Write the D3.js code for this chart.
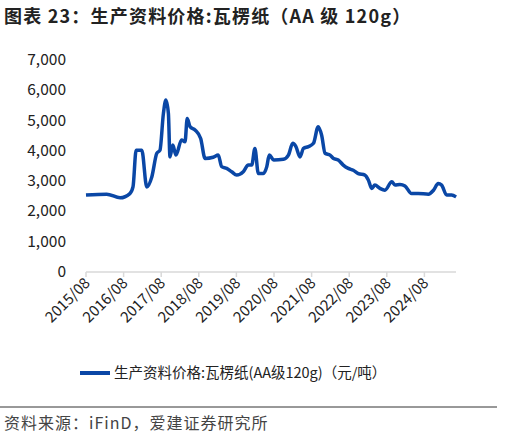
<!DOCTYPE html><html><head><meta charset="utf-8"><script src="https://cdn.jsdelivr.net/npm/d3@7"></script>
<style>body{margin:0;background:#fff;font-family:"Microsoft YaHei","Noto Sans CJK SC",sans-serif}</style></head><body><svg width="505" height="439"></svg><script>
const monthOffset=[0,6.6,10.9,14,15,16,17.8,19.4,21,22.6,23.6,24.7,25.5,26.3,26.8,27.7,28.7,30.5,31.6,32.3,33.2,34.8,36.6,38,40.6,42.2,43.3,44.9,46.5,48.1,50.2,51.8,52.9,53.9,55,56.6,57.7,58.5,59.9,63,64.6,66,67,68.3,69.4,71,72.6,74.1,75.2,76.3,77.9,79,80.5,82.1,83.7,85.3,86.9,89,90.1,91.2,92.2,93.8,95.4,97.6,98.6,100.2,101.8,103.9,106,109.3,110.9,112.4,113.5,115.1,116.7,118.1];
const price=[2540,2570,2450,2590,2810,4020,4020,2810,3140,3920,4020,5230,5680,5230,3800,4190,3860,4360,4300,5070,4800,4690,4410,3750,3790,3860,3480,3420,3310,3200,3310,3530,3530,4080,3250,3250,3480,3860,3700,3720,3860,4250,4140,3800,4080,4140,4250,4800,4520,3920,3860,3750,3700,3530,3420,3360,3250,3200,3040,2760,2870,2760,2700,2980,2870,2890,2840,2590,2590,2570,2700,2920,2870,2540,2540,2480];
const xTicks=["2015/08","2016/08","2017/08","2018/08","2019/08","2020/08","2021/08","2022/08","2023/08","2024/08"];
const yTicks=[0,1000,2000,3000,4000,5000,6000,7000];
const svg=d3.select("svg");
svg.append("text").attr("x",4).attr("y",23).attr("font-size",18).attr("letter-spacing",1.2).attr("font-weight","bold").attr("fill","#222").text("图表 23：生产资料价格:瓦楞纸（AA 级 120g）");
const x=d3.scaleLinear().domain([0,120]).range([86,462]);
const y=d3.scaleLinear().domain([0,7000]).range([272,60]);
svg.append("g").selectAll("text").data(yTicks).join("text").attr("x",66).attr("y",d=>y(d)+5).attr("text-anchor","end").attr("font-size",15.5).attr("fill","#222").text(d=>d3.format(",")(d));
svg.append("line").attr("x1",86).attr("x2",456).attr("y1",272).attr("y2",272).attr("stroke","#d9d9d9").attr("stroke-width",1.5);
xTicks.forEach((t,i)=>{const px=x(i*12);
svg.append("line").attr("x1",px).attr("x2",px).attr("y1",272).attr("y2",277).attr("stroke","#d9d9d9").attr("stroke-width",1.5);
svg.append("text").attr("transform",`translate(${px+5},${284}) rotate(-45)`).attr("text-anchor","end").attr("font-size",15).attr("fill","#222").text(t);});
const pts=monthOffset.map((m,i)=>[m,price[i]]);
svg.append("path").datum(pts).attr("d",d3.line().x(d=>x(d[0])).y(d=>y(d[1])).curve(d3.curveMonotoneX)).attr("fill","none").attr("stroke","#0a47a6").attr("stroke-width",3.5).attr("stroke-linejoin","round");
svg.append("line").attr("x1",80).attr("x2",110).attr("y1",373).attr("y2",373).attr("stroke","#0a47a6").attr("stroke-width",4);
svg.append("text").attr("x",114).attr("y",378).attr("font-size",14.5).attr("fill","#222").text("生产资料价格:瓦楞纸(AA级120g)（元/吨）");
svg.append("line").attr("x1",0).attr("x2",497).attr("y1",407).attr("y2",407).attr("stroke","#333").attr("stroke-width",1);
svg.append("text").attr("x",4).attr("y",429).attr("font-size",16).attr("letter-spacing",1).attr("fill","#444").text("资料来源：iFinD，爱建证券研究所");
</script></body></html>
